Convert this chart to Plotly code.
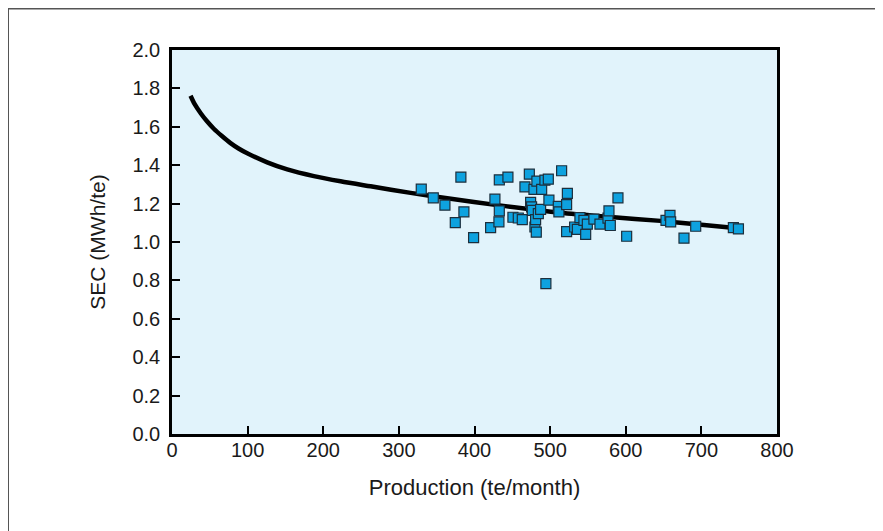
import plotly.graph_objects as go

# Scatter data: production (te/month) vs SEC (MWh/te)
prod = [329.6, 345.5, 360.9, 374.6, 382.0, 386.0, 398.8, 421.3, 427.0, 432.8,
        432.8, 432.3, 444.2, 450.8, 457.9, 463.2, 466.7, 472.5, 474.2, 475.5,
        476.4, 478.6, 479.9, 480.8, 481.7, 482.5, 484.4, 487.4, 488.8, 493.1,
        497.6, 498.4, 494.4, 510.8, 511.6, 515.2, 521.8, 522.8, 521.8, 532.4,
        536.0, 539.4, 544.7, 547.0, 549.2, 557.9, 565.9, 576.5, 577.8, 579.6,
        589.7, 601.2, 653.2, 658.5, 659.4, 677.0, 692.5, 742.3, 749.0]
sec = [1.275, 1.230, 1.192, 1.101, 1.338, 1.157, 1.023, 1.075, 1.223, 1.324,
       1.162, 1.105, 1.338, 1.129, 1.125, 1.117, 1.287, 1.353, 1.206, 1.183,
       1.165, 1.274, 1.078, 1.117, 1.051, 1.317, 1.148, 1.170, 1.274, 1.322,
       1.327, 1.218, 0.783, 1.186, 1.157, 1.371, 1.195, 1.253, 1.054, 1.078,
       1.066, 1.127, 1.113, 1.040, 1.093, 1.119, 1.093, 1.124, 1.162, 1.086,
       1.230, 1.030, 1.113, 1.139, 1.105, 1.020, 1.082, 1.075, 1.068]

# Fitted curve
curve_x = [24.5, 30.0, 37.7, 46.0, 55.3, 66.0, 77.4, 88.0, 99.5, 125.9,
           152.4, 187.6, 222.9, 262.6, 315.5, 364.0, 430.0, 513.9, 580.0,
           646.0, 700.0, 748.0]
curve_y = [1.762, 1.718, 1.672, 1.630, 1.590, 1.552, 1.515, 1.487, 1.462, 1.415,
           1.378, 1.343, 1.316, 1.290, 1.256, 1.228, 1.192, 1.152, 1.130,
           1.110, 1.090, 1.072]

x_ticks = [0, 100, 200, 300, 400, 500, 600, 700, 800]
y_ticks = [0.0, 0.2, 0.4, 0.6, 0.8, 1.0, 1.2, 1.4, 1.6, 1.8, 2.0]

FONT = "Liberation Sans, Arial, Helvetica, sans-serif"

fig = go.Figure()
fig.add_trace(go.Scatter(
    x=curve_x, y=curve_y, mode="lines",
    line=dict(color="black", width=4.5, shape="spline", smoothing=0.8),
    hoverinfo="skip", showlegend=False))
fig.add_trace(go.Scatter(
    x=prod, y=sec, mode="markers",
    marker=dict(symbol="square", size=10, color="#0ea2df",
                line=dict(color="#1c2f3d", width=1.2)),
    showlegend=False))

# the page body adds an 8px offset, so the figure is 8px smaller
W, H = 875, 523
L, R, T, B = 164, 106, 42, 97

fig.update_layout(
    width=W, height=H,
    margin=dict(l=L, r=R, t=T, b=B, autoexpand=False),
    paper_bgcolor="white",
    plot_bgcolor="#e1f3fb",
    font=dict(family=FONT, size=20, color="#1a1a1a"),
    xaxis=dict(
        range=[0, 800], tickvals=x_ticks, ticktext=[str(v) for v in x_ticks],
        ticks="inside", ticklen=8, tickwidth=1.5, tickcolor="black",
        showline=True, linecolor="black", linewidth=2.5, mirror=True,
        showgrid=False, zeroline=False, automargin=False,
        ticklabelstandoff=-4,
        title=dict(text="Production (te/month)", standoff=20,
                   font=dict(size=22)),
        tickfont=dict(size=20),
    ),
    yaxis=dict(
        range=[0, 2.0], tickvals=y_ticks, ticktext=[f"{v:.1f}" for v in y_ticks],
        ticks="inside", ticklen=8, tickwidth=1.5, tickcolor="black",
        showline=True, linecolor="black", linewidth=2.5, mirror=True,
        showgrid=False, zeroline=False, automargin=False,
        ticklabelstandoff=5,
        title=dict(text="SEC (MWh/te)", standoff=22, font=dict(size=21)),
        tickfont=dict(size=20),
    ),
    shapes=[
        dict(type="line", xref="paper", yref="paper",
             x0=-L / (W - L - R), x1=-L / (W - L - R),
             y0=-B / (H - T - B), y1=1 + (T - 0.5) / (H - T - B),
             line=dict(color="#555555", width=2)),
        dict(type="line", xref="paper", yref="paper",
             x0=-L / (W - L - R), x1=1 + R / (W - L - R),
             y0=1 + (T - 0.5) / (H - T - B), y1=1 + (T - 0.5) / (H - T - B),
             line=dict(color="#555555", width=2)),
    ],
)

fig.write_html("out.html")
